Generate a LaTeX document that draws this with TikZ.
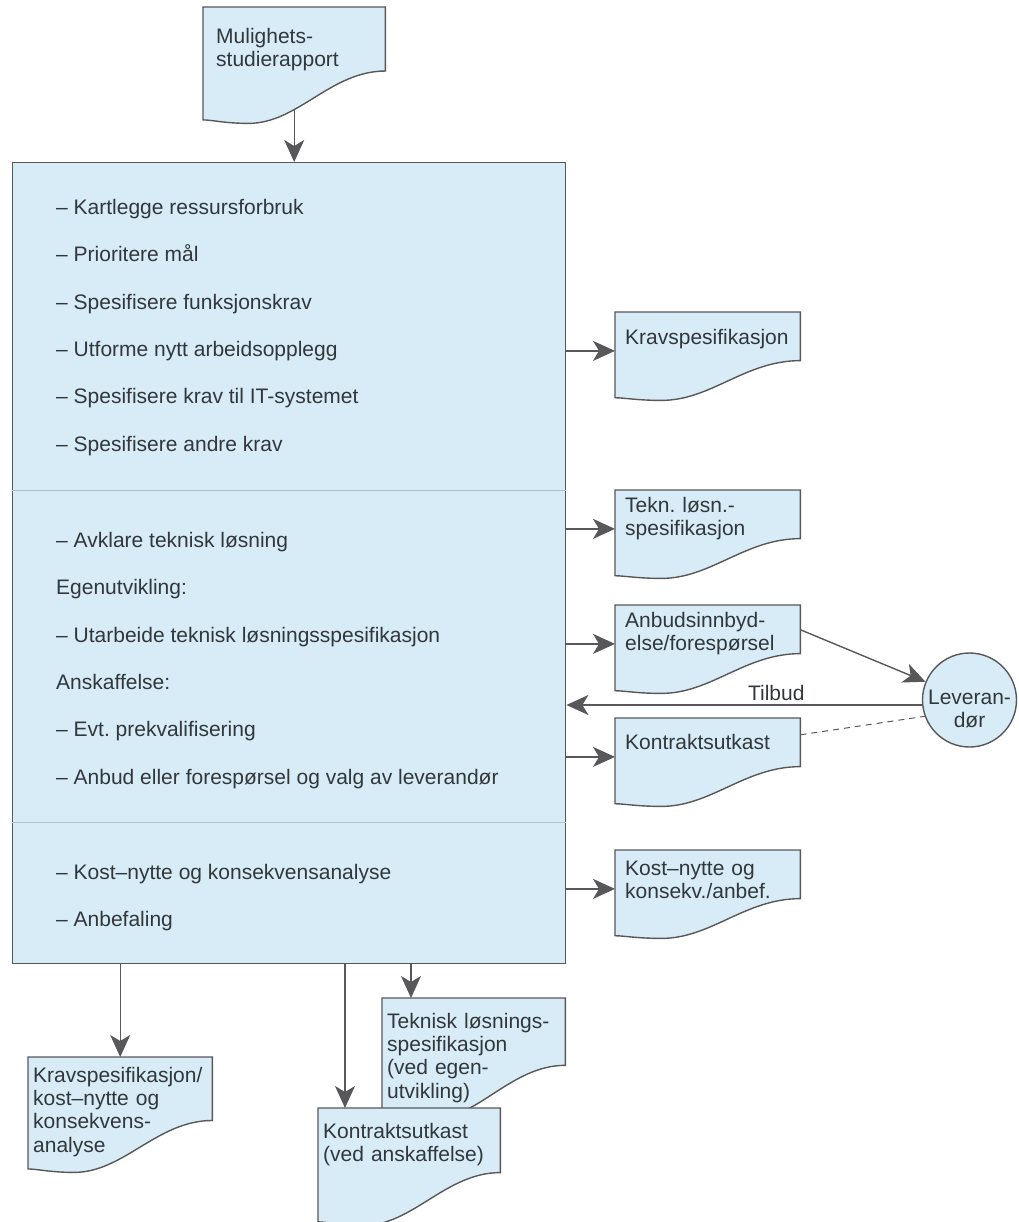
\documentclass[tikz,border=0pt]{standalone}
\usepackage{fontspec}
\setmainfont{Liberation Sans}
\usetikzlibrary{arrows.meta,calc,backgrounds}

\definecolor{docblue}{RGB}{215,236,246}
\definecolor{linegray}{RGB}{88,88,90}
\definecolor{textgray}{RGB}{50,55,60}
\definecolor{cutgray}{RGB}{178,192,200}

\tikzset{
  box/.style={draw=linegray, fill=docblue, line width=1.4pt},
  doc/.style={anchor=north west, inner ysep=0pt, inner xsep=10pt, text width=165pt,
              align=left, text height=22pt, text depth=66pt},
  docline/.style={draw=linegray, fill=docblue, line width=1.4pt},
  item/.style={anchor=base west, inner sep=0pt},
  divider/.style={draw=cutgray, line width=0.8pt},
  arr/.style={->, draw=linegray, line width=1.4pt},
  dashline/.style={draw=linegray, line width=1pt, dash pattern=on 6pt off 5pt}
}

\begin{document}
\frenchspacing
\begin{tikzpicture}[x=1pt,y=-1pt,>={Stealth[length=22pt,width=20pt,inset=6pt]},
    font=\fontsize{21}{23.3}\selectfont, text=textgray]

  \useasboundingbox (0,0) rectangle (1018,1222);

  % main box with three parts
  \node[box, anchor=north west, minimum width=553pt, minimum height=801pt, inner sep=0pt]
    (main) at (12,162) {};
  \coordinate (cut1) at (0,490);
  \coordinate (cut2) at (0,822);
  \draw[divider] (main.west |- cut1) -- (main.east |- cut1);
  \draw[divider] (main.west |- cut2) -- (main.east |- cut2);

  \foreach \txt [count=\i from 0] in {– Kartlegge ressursforbruk, – Prioritere mål,
      – Spesifisere funksjonskrav, – Utforme nytt arbeidsopplegg,
      – Spesifisere krav til IT-systemet, – Spesifisere andre krav}
    \node[item] (a\i) at (56,214.5+47.3*\i) {\txt};
  \foreach \txt [count=\i from 0] in {– Avklare teknisk løsning, Egenutvikling:,
      – Utarbeide teknisk løsningsspesifikasjon, Anskaffelse:,
      – Evt. prekvalifisering, – Anbud eller forespørsel og valg av leverandør}
    \node[item] (b\i) at (56,547.5+47.3*\i) {\txt};
  \foreach \txt [count=\i from 0] in {– Kost–nytte og konsekvensanalyse, – Anbefaling}
    \node[item] (c\i) at (56,879.5+47.3*\i) {\txt};

  % documents
  \node[doc, inner xsep=13pt, text width=156pt, text height=36pt, text depth=80pt]
    (mul) at (203,7) {Mulighets-\\studierapport};
  \node[doc, text height=32pt, text depth=56pt] (krav) at (615,312) {Kravspesifikasjon};
  \node[doc] (tekn) at (615,490) {Tekn. løsn.-\\spesifikasjon};
  \node[doc] (anbud) at (615,605) {Anbudsinnbyd-\\else/forespørsel};
  \node[doc, text height=31pt, text depth=57pt] (kontr) at (615,718) {Kontraktsutkast};
  \node[doc, text height=25pt, text depth=63pt] (kost) at (615,850)
    {Kost–nytte og\\konsekv./anbef.};
  \node[doc, inner xsep=5pt, text width=174pt, text height=25pt, text depth=90pt]
    (kravb) at (28,1057) {Kravspesifikasjon/\\kost–nytte og\\konsekvens-\\analyse};
  \node[doc, inner xsep=5pt, text width=173pt, text height=30pt, text depth=92pt]
    (teknb) at (382,998) {Teknisk løsnings-\\spesifikasjon\\(ved egen-\\utvikling)};
  \node[doc, inner xsep=5pt, text width=172pt, text height=30pt, text depth=87pt]
    (kontrb) at (318,1108) {Kontraktsutkast\\(ved anskaffelse)};

  \node[box, circle, minimum size=94pt, inner sep=-3pt, align=center, text height=56pt]
    (lev) at (969.5,700) {Leveran-\\dør};

  \begin{pgfonlayer}{background}
    \draw[arr] (mul.center) -- (mul.center |- main.north);
    \foreach \d in {mul,krav,tekn,anbud,kontr,kost,kravb,teknb,kontrb}
      \path[docline] let \p1=(\d.north west), \p2=(\d.south east),
          \n1={\x2-\x1}, \n2={\y1-\y2} in
        (\x1,\y1) -- (\x2,\y1) -- (\x2,{\y1-0.55*\n2})
        .. controls ({\x2-0.3*\n1},{\y1-0.55*\n2}) and ({\x1+0.52*\n1},\y2) .. ({\x1+0.25*\n1},\y2)
        .. controls ({\x1+0.12*\n1},\y2) and ({\x1+0.05*\n1},{\y2+0.03*\n2}) .. (\x1,{\y2+0.03*\n2})
        -- cycle;
  \end{pgfonlayer}

  % outputs to the right
  \foreach \d in {krav,tekn,anbud,kontr,kost} {
    \coordinate (\d-in) at ($(\d.north west)!0.44!(\d.south west)$);
    \draw[arr] (main.east |- \d-in) -- (\d-in);
  }

  \coordinate (anbud-out) at ($(anbud.north east)!0.28!(anbud.south east)$);
  \coordinate (kontr-out) at ($(kontr.north east)!0.19!(kontr.south east)$);
  \draw[arr] (anbud-out) -- (lev);
  \draw[dashline] (kontr-out) -- (lev.200);
  \draw[arr] (lev.186) -- (lev.186 -| main.east)
    node[pos=0.41, above, inner sep=4pt] (tilbud) {Tilbud};

  % outputs below
  \coordinate (teknb-in) at ($(teknb.north west)+(29,0)$);
  \coordinate (kontrb-in) at ($(kontrb.north west)+(27,0)$);
  \draw[arr] (main.south -| kravb.north) -- (kravb.north);
  \draw[arr] (main.south -| kontrb-in) -- (kontrb-in);
  \draw[arr] (main.south -| teknb-in) -- (teknb-in);

\end{tikzpicture}
\end{document}
